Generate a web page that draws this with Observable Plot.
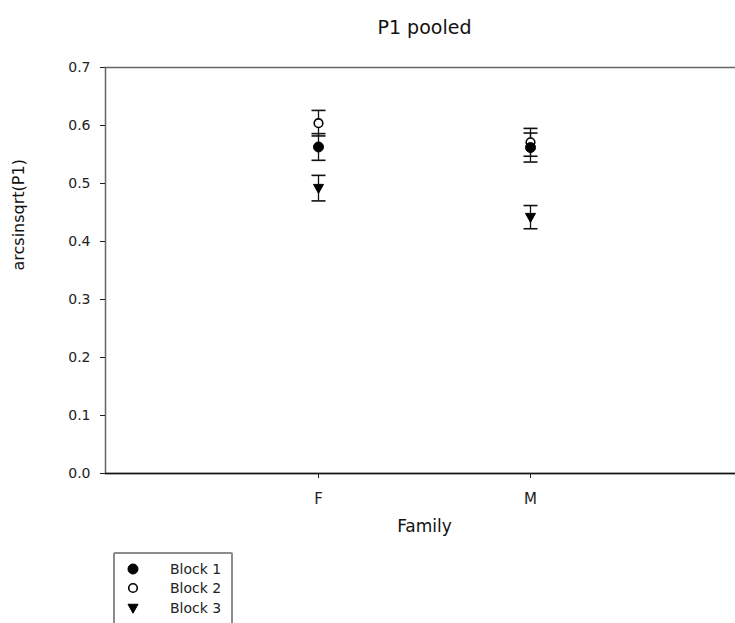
<!DOCTYPE html>
<html>
<head>
<meta charset="utf-8">
<script src="https://cdn.jsdelivr.net/npm/d3@7"></script>
<script src="https://cdn.jsdelivr.net/npm/@observablehq/plot@0.6"></script>
<style>
  html, body { margin: 0; padding: 0; background: #fff; }
  body { width: 735px; height: 623px; overflow: hidden; position: relative; font-family: "DejaVu Sans", sans-serif; }
  #chart svg { max-width: none !important; }
  #legend { position: absolute; left: 113px; top: 552px; width: 120px; height: 90px; box-sizing: border-box;
            border: 2px solid #8c8c8c; border-radius: 2px; padding-top: 5px; font-size: 14px; color: #222; }
  .row { display: flex; align-items: center; height: 19.5px; }
  .row svg { margin-left: 10px; margin-right: 29px; }
</style>
</head>
<body>
<div id="chart"></div>
<div id="legend"></div>
<script>
// Families on the x axis, treatment blocks as series
const families = ["F", "M"];
const blocks = ["Block 1", "Block 2", "Block 3"];

// Mean arcsin(sqrt(P1)) per family, one array per block
const block1Mean = [0.563, 0.562];
const block2Mean = [0.604, 0.571];
const block3Mean = [0.492, 0.442];

// Standard errors (error bar half-lengths)
const block1Err = [0.023, 0.025];
const block2Err = [0.022, 0.024];
const block3Err = [0.022, 0.020];

const yTicks = [0, 0.1, 0.2, 0.3, 0.4, 0.5, 0.6, 0.7];

// Custom marker shapes
const triangleDown = {
  draw(ctx, size) {
    const r = Math.sqrt(size / Math.PI);
    ctx.moveTo(-r, -r * 0.75);
    ctx.lineTo(r, -r * 0.75);
    ctx.lineTo(0, r * 1.05);
    ctx.closePath();
  }
};
const capLine = {
  draw(ctx, size) {
    const r = Math.sqrt(size / Math.PI);
    ctx.moveTo(-r, 0);
    ctx.lineTo(r, 0);
  }
};

const means = [block1Mean, block2Mean, block3Mean];
const errs = [block1Err, block2Err, block3Err];
const styles = [
  {symbol: "circle", fill: "#000", stroke: "#000", r: 5, strokeWidth: 1},
  {symbol: "circle", fill: "#fff", stroke: "#000", r: 4.3, strokeWidth: 1.6},
  {symbol: triangleDown, fill: "#000", stroke: "#000", r: 5, strokeWidth: 1}
];

const rows = blocks.flatMap((block, i) =>
  families.map((family, j) => ({family, block, mean: means[i][j], err: errs[i][j]}))
);
const byBlock = (b) => rows.filter((d) => d.block === b);

// Draw order: error bars first, then open circles, triangles, filled circles on top
const markerOrder = [1, 2, 0];

const chart = Plot.plot({
  width: 745,
  height: 545,
  marginLeft: 105,
  marginRight: 2,
  marginTop: 67,
  marginBottom: 72,
  style: {fontFamily: "DejaVu Sans, sans-serif", color: "#222", background: "#fff", maxWidth: "none"},
  x: {type: "point", domain: families, padding: 1},
  y: {domain: [0, 0.7]},
  marks: [
    Plot.frame({stroke: "#666", strokeWidth: 1.5}),
    Plot.ruleY([0], {stroke: "#111", strokeWidth: 1.5}),
    Plot.axisY({ticks: yTicks, tickFormat: ".1f", tickSize: 5, tickPadding: 10, fontSize: 14, label: null}),
    Plot.axisX({tickSize: 5, tickPadding: 15, fontSize: 15, label: null}),
    // error bars
    Plot.ruleX(rows, {x: "family", y1: (d) => d.mean - d.err, y2: (d) => d.mean + d.err, stroke: "#111", strokeWidth: 1.3}),
    Plot.dot(rows, {x: "family", y: (d) => d.mean + d.err, symbol: capLine, r: 7, stroke: "#111", strokeWidth: 1.6}),
    Plot.dot(rows, {x: "family", y: (d) => d.mean - d.err, symbol: capLine, r: 7, stroke: "#111", strokeWidth: 1.6}),
    // markers
    ...markerOrder.map((i) => Plot.dot(byBlock(blocks[i]), {x: "family", y: "mean", ...styles[i]})),
    // title and axis labels
    Plot.text(["P1 pooled"], {frameAnchor: "top", dy: -47, fontSize: 19, fill: "#111"}),
    Plot.text(["Family"], {frameAnchor: "bottom", dy: 58, fontSize: 17, fill: "#111"}),
    Plot.text(["arcsinsqrt(P1)"], {frameAnchor: "left", dx: -87, rotate: -90, fontSize: 16, fill: "#111"})
  ]
});
chart.style.maxWidth = "none";
document.getElementById("chart").append(chart);

// Boxed legend listing the block markers
const legend = document.getElementById("legend");
blocks.forEach((b, i) => {
  const s = styles[i];
  const row = document.createElement("div");
  row.className = "row";
  const sym = d3.symbol(typeof s.symbol === "string" ? d3.symbolCircle : s.symbol, s.r * s.r * Math.PI)();
  row.innerHTML = `<svg width="16" height="16" viewBox="-8 -8 16 16"><path d="${sym}" fill="${s.fill}" stroke="${s.stroke}" stroke-width="${s.strokeWidth}"/></svg><span>${b}</span>`;
  legend.append(row);
});
</script>
</body>
</html>
